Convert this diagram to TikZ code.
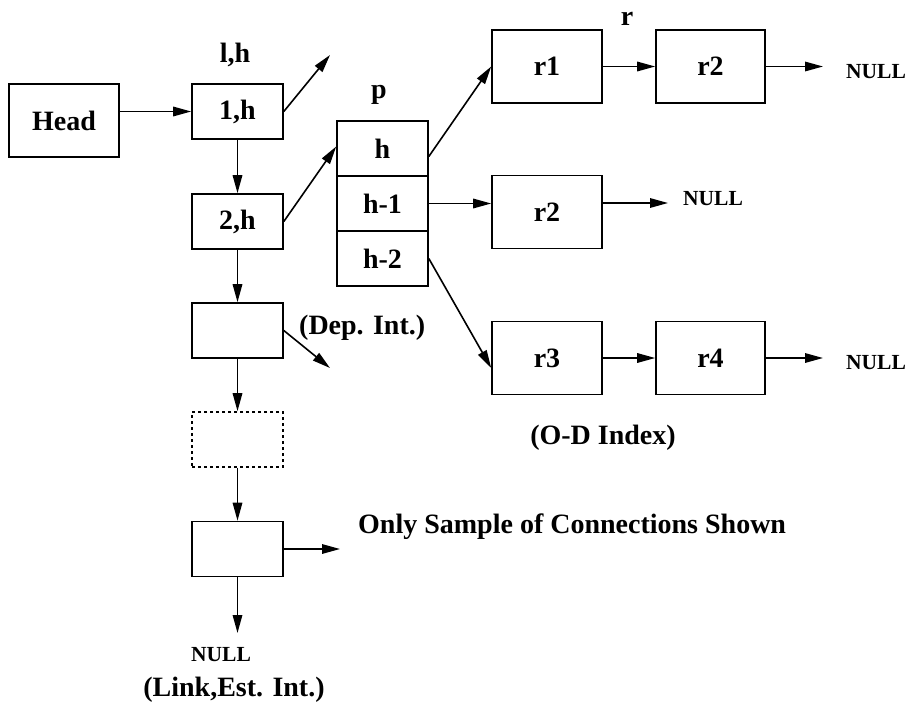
\documentclass[tikz,border=0pt]{standalone}
\usepackage{fontspec}
\setmainfont{Liberation Serif}
\usetikzlibrary{arrows.meta}
\begin{document}
\begin{tikzpicture}[x=1pt,y=-1pt,
  every node/.style={font=\fontsize{28}{31}\selectfont\bfseries, inner sep=0pt},
  cell/.style={draw, line width=1.6pt, minimum width=91pt, minimum height=55pt},
  wide/.style={draw, line width=1.6pt, minimum width=110pt, minimum height=73pt},
  ghost/.style={cell, dash pattern=on 3pt off 3pt},
  link/.style={line width=1.6pt, -{Triangle[length=18pt,width=9.5pt]}},
  small/.style={font=\fontsize{21.5}{24}\selectfont\bfseries}]
\useasboundingbox (0,0) rectangle (909,704);

% main linked list
\node[wide] (head) at (64,120.5) {Head};
\node[cell] (n1) at (237.5,111.5) {1,h};
\node[cell] (n2) at (237.5,221.5) {2,h};
\node[cell] (n3) at (237.5,330.5) {};
\node[ghost] (n4) at (237.5,439.5) {};
\node[cell] (n5) at (237.5,549) {};

% pointer array
\node[cell] (ph) at (382.5,148.5) {h};
\node[cell] (ph1) at (382.5,203.5) {h-1};
\node[cell] (ph2) at (382.5,258.5) {h-2};

% record lists
\node[wide] (r1) at (547,66.5) {r1};
\node[wide, minimum width=109pt] (r2) at (710.5,66.5) {r2};
\node[wide] (r2b) at (547,212) {r2};
\node[wide] (r3) at (547,358) {r3};
\node[wide, minimum width=109pt] (r4) at (710.5,358) {r4};

% labels
\node (lh) at (235,55) {l,h};
\node (lp) at (379,95) {p};
\node (lr) at (627,19) {r};
\node[anchor=west] (ldep) at (299,328) {(Dep. Int.)};
\node (lod) at (603,438) {(O-D Index)};
\node[anchor=west] (lonly) at (358,527) {Only Sample of Connections Shown};
\node (llink) at (234,690) {(Link,Est. Int.)};
\node[small] (null1) at (876,72) {NULL};
\node[small] (null2) at (713,199) {NULL};
\node[small] (null3) at (876,363) {NULL};
\node[small] (null4) at (221,655) {NULL};

% free arrow ends
\coordinate (e1) at (330,55);
\coordinate (e3) at (330,368);
\coordinate (e5) at (340,549);
\coordinate (e5d) at (237.5,633);
\coordinate (er2) at (823,66.5);
\coordinate (er2b) at (668,203);
\coordinate (er4) at (823,358);

% connectors
\draw[link] (head.east |- n1.west) -- (n1.west);
\draw[link] (n1.east) -- (e1);
\draw[link] (n1.south) -- (n2.north);
\draw[link] (n2.south) -- (n3.north);
\draw[link] (n3.south) -- (n4.north);
\draw[link] (n4.south) -- (n5.north);
\draw[link] (n2.east) -- ([yshift=2pt]ph.west);
\draw[link] (n3.east) -- (e3);
\draw[link] (n5.east) -- (e5);
\draw[link] (n5.south) -- (e5d);
\draw[link] ([yshift=-8pt]ph.east) -- (r1.west);
\draw[link] (ph1.east) -- (ph1.east -| r2b.west);
\draw[link] (ph2.east) -- ([yshift=-10pt]r3.west);
\draw[link] (r1.east) -- (r2.west);
\draw[link] (r2.east) -- (er2);
\draw[link] (r2b.east |- er2b) -- (er2b);
\draw[link] (r3.east) -- (r4.west);
\draw[link] (r4.east) -- (er4);
\end{tikzpicture}
\end{document}
